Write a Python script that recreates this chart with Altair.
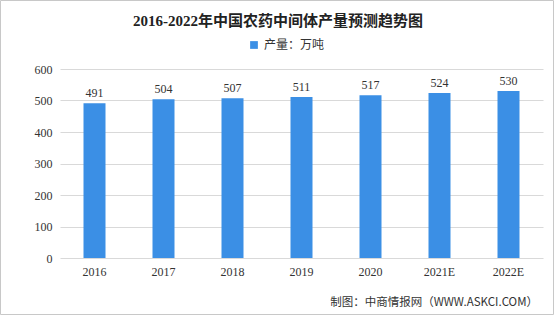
import altair as alt
import pandas as pd

years = ["2016", "2017", "2018", "2019", "2020", "2021E", "2022E"]
values = [491, 504, 507, 511, 517, 524, 530]
series_name = "产量：万吨"
title_text = "2016-2022年中国农药中间体产量预测趋势图"
footer_text = "制图：中商情报网（WWW.ASKCI.COM）"
y_ticks = [0, 100, 200, 300, 400, 500, 600]

df = pd.DataFrame({"year": years, "value": values, "series": [series_name] * len(years)})

BAR = "#3b8fe5"
FONT = "Liberation Serif, Noto Sans CJK SC"

x_enc = alt.X("year:N", sort=years, title=None,
              axis=alt.Axis(labelAngle=0, labelFont=FONT, labelFontSize=12,
                            labelColor="#333333", domain=False, ticks=False,
                            labelPadding=8))
y_enc = alt.Y("value:Q", title=None, scale=alt.Scale(domain=[0, 600], nice=False),
              axis=alt.Axis(values=y_ticks, labelFont=FONT, labelFontSize=12,
                            labelColor="#333333", domain=False, ticks=False,
                            labelPadding=8, gridColor="#d9d9d9",
                            labelOverlap=False))

base = alt.Chart(df).encode(x=x_enc, y=y_enc)

bars = base.mark_bar(size=22, color=BAR).encode(
    color=alt.Color("series:N", scale=alt.Scale(range=[BAR]), title=None,
                    legend=alt.Legend(orient="none", legendX=188, legendY=-30,
                                      symbolType="square", symbolSize=60,
                                      labelFont="Noto Sans CJK SC", labelFontSize=12,
                                      labelColor="#333333")),
)

labels = base.mark_text(dy=-10, font=FONT, fontSize=12, color="#333333").encode(
    text="value:Q",
)

title = alt.Chart(pd.DataFrame({"t": [title_text]})).mark_text(
    font="Liberation Serif, Noto Sans CJK SC", fontSize=15, fontWeight="bold",
    color="#222222", align="center", baseline="middle"
).encode(x=alt.value(218), y=alt.value(-48), text="t:N")

footer = alt.Chart(pd.DataFrame({"t": [footer_text]})).mark_text(
    font="Noto Sans CJK SC", fontSize=11.5, color="#333333",
    align="right", baseline="middle"
).encode(x=alt.value(478), y=alt.value(234), text="t:N")

border = alt.Chart(pd.DataFrame({"b": [0]})).mark_rect(
    fill=None, stroke="#c8c8c8", strokeWidth=1
).encode(x=alt.value(-59.5), x2=alt.value(493.5), y=alt.value(-68.5), y2=alt.value(245.5))

chart = alt.layer(bars, labels, title, footer, border).properties(
    width=483, height=189,
    autosize=alt.AutoSizeParams(type="none"),
    padding={"left": 60, "top": 69, "right": 11, "bottom": 57},
    background="white",
).configure_view(stroke=None)

chart.save("out.html", embed_options={"renderer": "svg", "actions": False})
